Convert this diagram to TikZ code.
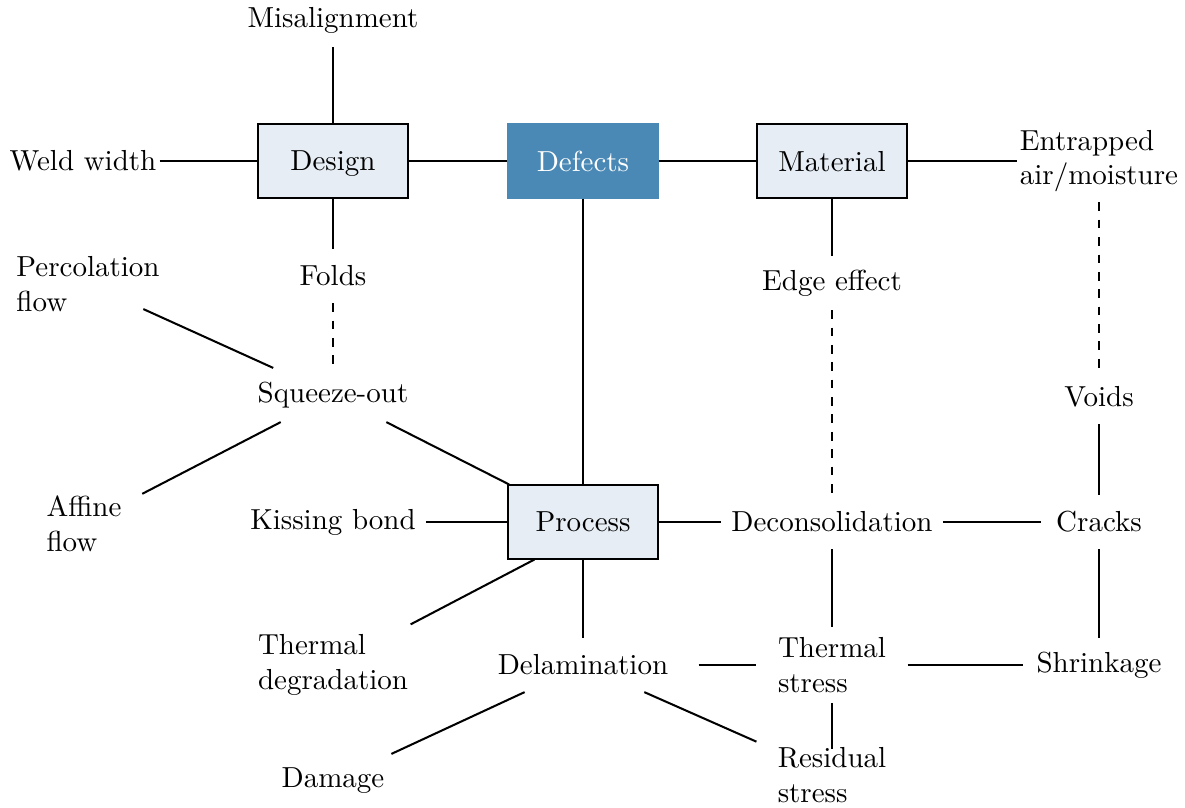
\documentclass[tikz,border=0pt]{standalone}
\usepackage{tikz}
\usetikzlibrary{calc}
\definecolor{boxfill}{HTML}{E6EDF5}
\definecolor{defectblue}{HTML}{4A89B5}

\begin{document}
\begin{tikzpicture}[x=0.345pt, y=-0.345pt,
    box/.style={draw, fill=boxfill, minimum width=51.75pt, minimum height=25.5pt, text depth=0pt},
    lbl/.style={minimum width=51.75pt, minimum height=18.3pt, align=left},
    link/.style={line width=0.7pt}]
    \useasboundingbox (0, 0) rectangle (1185, 807);

    % the four boxes
    \node [box] (design) at (333, 161) {Design};
    \node [box, draw=defectblue, fill=defectblue, text=white] (defects) at (583, 161) {Defects};
    \node [box] (material) at (832, 161) {Material};
    \node [box] (process) at (583, 522) {Process};

    % labels
    \node [lbl] (misalign) at (333, 20) {Misalignment};
    \node [lbl] (weld) at (83, 161) {Weld width};
    \node [lbl] (entrapped) at (1099, 161) {Entrapped\\air/moisture};
    \node [lbl] (folds) at (333, 276) {Folds};
    \node [lbl] (edge) at (832, 283) {Edge effect};
    \node [lbl] (perc) at (88, 284) {Percolation\\flow};
    \node [lbl] (squeeze) at (333, 395) {Squeeze-out};
    \node [lbl] (voids) at (1099, 397) {Voids};
    \node [lbl] (affine) at (84, 524) {Affine\\flow};
    \node [lbl] (kissing) at (333, 522) {Kissing bond};
    \node [lbl] (decon) at (832, 522) {Deconsolidation};
    \node [lbl] (cracks) at (1099, 522) {Cracks};
    \node [lbl] (thdeg) at (333, 665) {Thermal\\degradation};
    \node [lbl] (delam) at (583, 665) {Delamination};
    \node [lbl] (thstress) at (832, 665) {Thermal\\stress};
    \node [lbl] (shrink) at (1099, 665) {Shrinkage};
    \node [lbl] (damage) at (333, 781) {Damage};
    \node [lbl] (residual) at (832, 775) {Residual\\stress};

    % connections
    \draw [link] (misalign) -- (design);
    \draw [link, shorten <=-2.4pt] (weld) -- (design);
    \draw [link] (design) -- (defects);
    \draw [link] (defects) -- (material);
    \draw [link, shorten >=-2.4pt] (material) -- (entrapped);
    \draw [link] (design) -- (folds);
    \draw [link, dashed] (folds) -- (squeeze);
    \draw [link] (defects) -- (process);
    \draw [link] (material) -- (edge);
    \draw [link, dashed] (edge) -- (decon);
    \draw [link, dashed] (entrapped) -- (voids);
    \draw [link] (voids) -- (cracks);
    \draw [link, shorten >=-10pt] (squeeze) -- (perc);
    \draw [link, shorten >=-6pt] (squeeze) -- (affine);
    \draw [link] (squeeze) -- (process);
    \draw [link] (kissing) -- (process);
    \draw [link] (process) -- (decon);
    \draw [link, shorten >=-6pt] (decon) -- (cracks);
    \draw [link] ([xshift=9.3pt]process.south west) -- (thdeg);
    \draw [link] (process) -- (delam);
    \draw [link, shorten <=7pt] (delam) -- (thstress);
    \draw [link] (decon) -- (thstress);
    \draw [link] (thstress) -- (shrink);
    \draw [link] (cracks) -- (shrink);
    \draw [link] (delam) -- (damage);
    \draw [link] (delam) -- (residual);
    \draw [link, shorten >=-4pt] (thstress) -- (residual);
\end{tikzpicture}
\end{document}
